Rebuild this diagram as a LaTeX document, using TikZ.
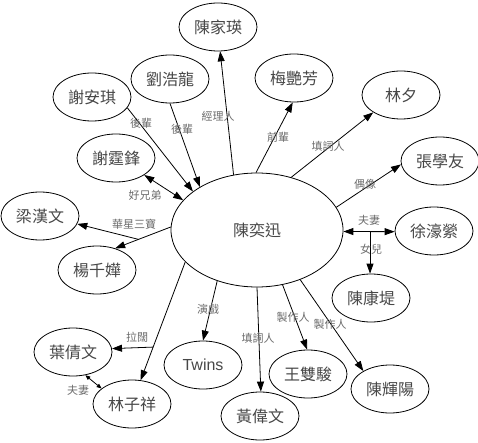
\documentclass[tikz,border=0pt]{standalone}
\usepackage{fontspec}
\setmainfont{Noto Sans CJK TC}
\newfontfamily\latinsans{Liberation Sans}
\usetikzlibrary{arrows.meta,shapes.geometric,calc}
\begin{document}
\begin{tikzpicture}[x=1pt,y=-1pt,
  person/.style={draw,ellipse,line width=0.8pt,minimum width=78pt,minimum height=48pt,inner sep=0pt,font=\fontsize{16}{16}\selectfont,text=black!72},
  rel/.style={line width=0.8pt,-{Triangle[length=10pt,width=7pt]}},
  both/.style={line width=0.8pt,{Triangle[length=10pt,width=7pt]}-{Triangle[length=10pt,width=7pt]}},
  smallboth/.style={line width=0.8pt,{Triangle[length=5pt,width=4pt]}-{Triangle[length=5pt,width=4pt]}},
  lab/.style={font=\fontsize{11}{11}\selectfont,text=black!58,inner sep=0pt}]
\useasboundingbox (0,0) rectangle (478,443);
% nodes
\node[person,minimum width=172pt,minimum height=114pt] (c) at (257,230) {陳奕迅};
\node[person] (jy) at (218,27) {陳家瑛};
\node[person] (lhl) at (170,79) {劉浩龍};
\node[person] (xaq) at (92,97) {謝安琪};
\node[person] (xtf) at (116,158) {謝霆鋒};
\node[person] (myf) at (294,78) {梅艷芳};
\node[person] (lx) at (401,95) {林夕};
\node[person] (zxy) at (440,161) {張學友};
\node[person] (lhw) at (40,216) {梁漢文};
\node[person] (yqc) at (97,270) {楊千嬅};
\node[person] (xhy) at (434,231) {徐濠縈};
\node[person] (ckt) at (371,298) {陳康堤};
\node[person] (yqw) at (73,352) {葉倩文};
\node[person] (lzx) at (132,404) {林子祥};
\node[person,font=\latinsans\fontsize{16}{16}\selectfont] (tw) at (203,365) {Twins};
\node[person] (wsj) at (308,374) {王雙駿};
\node[person] (chy) at (390,389) {陳輝陽};
\node[person] (hww) at (260,416) {黃偉文};
% edges
\draw[rel] (c.113) -- (jy.-85);
\draw[rel] (lhl.-90) -- (c.143);
\draw[rel] (xaq.-17) -- (c.149);
\draw[both] (xtf.-31) -- (c.158);
\draw[rel] (c.91) -- (myf.-93);
\draw[rel] (c.57) -- (lx.212);
\draw[rel] (c.16) -- (zxy.185);
\draw[both] (c.-1) -- (xhy.181);
\coordinate (fq) at ($(c.-1)!0.52!(xhy.181)$);
\draw[rel] (fq) -- (fq |- ckt.north);
\draw[rel] (c.178) -- (yqc.50);
\coordinate (hx) at ($(c.178)!0.58!(yqc.50)$);
\draw[rel] (hx) -- (lhw.-12);
\draw[rel] (c.204) -- (lzx.70);
\coordinate (lk) at ($(c.204)!0.72!(lzx.70)$);
\draw[rel] (lk) -- (yqw.5);
\draw[smallboth] (yqw.-62) -- (lzx.153);
\draw[rel] (c.232) -- (tw.90);
\draw[rel] (c.-90) -- (hww.88);
\draw[rel] (c.-65) -- (wsj.92);
\draw[rel] (c.-49) -- (chy.146);
% labels
\node[lab] (t1) at (218,116) {經理人};
\node[lab] (t2) at (182,129) {後輩};
\node[lab] (t3) at (141,123) {後輩};
\node[lab] (t4) at (145,195) {好兄弟};
\node[lab] (t5) at (278,137) {前輩};
\node[lab] (t6) at (328,146) {填詞人};
\node[lab] (t7) at (365,184) {偶像};
\node[lab] (t8) at (369,220) {夫妻};
\node[lab] (t9) at (371,249) {女兒};
\node[lab] (t10) at (134,224) {華星三寶};
\node[lab] (t11) at (137,337) {拉闊};
\node[lab] (t12) at (78,390) {夫妻};
\node[lab] (t13) at (208,309) {演戲};
\node[lab] (t14) at (258,338) {填詞人};
\node[lab] (t15) at (293,317) {製作人};
\node[lab] (t16) at (330,324) {製作人};
\end{tikzpicture}
\end{document}
